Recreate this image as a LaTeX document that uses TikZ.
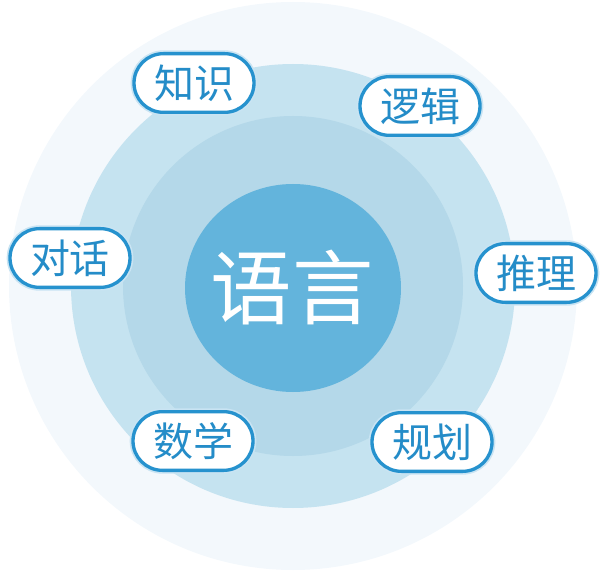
\documentclass[tikz,border=0pt]{standalone}
\usepackage{fontspec}
\newfontfamily\cjk{Noto Sans CJK SC}
\usepackage{xcolor}
\definecolor{ringouter}{RGB}{243,248,252}
\definecolor{ringmid}{RGB}{197,227,240}
\definecolor{ringinner}{RGB}{180,216,233}
\definecolor{corefill}{RGB}{99,180,220}
\definecolor{pillblue}{RGB}{38,146,206}
\definecolor{pilltext}{RGB}{36,140,200}

\begin{document}
\begin{tikzpicture}[
      x=0.75pt, y=-0.75pt,
      pill/.style={
        draw=pillblue,
        line width=2.5pt,
        fill=white,
        rounded corners=22pt,
        minimum width=90pt,
        minimum height=44pt,
        inner sep=0pt,
        text=pilltext,
        font=\cjk\fontsize{30}{30}\selectfont,
        preaction={draw=pillblue!25, line width=5pt} % soft glow round the border
      },
      core/.style={
        text=white,
        font=\cjk\fontsize{61}{61}\selectfont
      }
    ]
    \useasboundingbox (0,0) rectangle (600,574);

    % Rings
    \fill [ringouter] (293,286) circle [radius=213pt];
    \fill [ringmid] (293,286) circle [radius=166.5pt];
    \fill [ringinner] (293,286) circle [radius=127.5pt];
    \fill [corefill] (293,288) ellipse [x radius=81pt, y radius=78pt];

    % Centre label
    \node [core] (yuyan) at (292,288) {语言};

    % Labels round the rings
    \node [pill] (zhishi) at (194,83) {知识};
    \node [pill] (luoji) at (420,106) {逻辑};
    \node [pill] (duihua) at (70,258) {对话};
    \node [pill] (tuili) at (536,273) {推理};
    \node [pill] (shuxue) at (193,441) {数学};
    \node [pill] (guihua) at (432,442) {规划};
  \end{tikzpicture}
\end{document}
